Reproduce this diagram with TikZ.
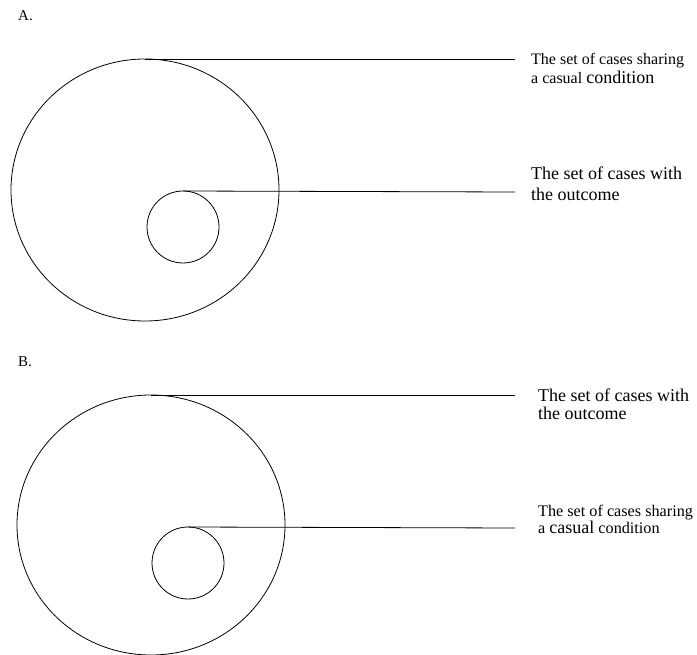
\documentclass[tikz,border=0pt]{standalone}
\usepackage{fontspec}
\setmainfont{Liberation Serif}
\begin{document}
\begin{tikzpicture}[x=1pt,y=-1pt,
  set/.style={draw=black, line width=0.8pt},
  lead/.style={draw=black, line width=0.8pt},
  lblbig/.style={anchor=north west, align=left, inner sep=0pt, font=\fontsize{18}{20}\selectfont},
  lblsmall/.style={anchor=north west, align=left, inner sep=0pt, font=\fontsize{16.2}{17.5}\selectfont},
  tag/.style={anchor=north west, inner sep=0pt, font=\fontsize{15}{17}\selectfont}]
\useasboundingbox (0,0) rectangle (697,655);
% Panel A
\node[tag] (tA) at (18,10) {A.};
\draw[set] (145,190) ellipse [x radius=134, y radius=131];
\coordinate (Atop) at (145,59);
\draw[set] (183,227) circle [radius=36];
\coordinate (atop) at (183,191);
\node[lblsmall, font=\fontsize{16}{19}\selectfont] (A1) at (531,53) {The set of cases sharing\\a casual {\fontsize{18}{19}\selectfont condition}};
\node[lblbig, font=\fontsize{18}{21}\selectfont] (A2) at (531,166.5) {The set of cases with\\the outcome};
\coordinate (A1e) at (515,59);
\coordinate (A2e) at (515,192);
\draw[lead] (Atop) -- (A1e);
\draw[lead] (atop) -- (A2e);
% Panel B
\node[tag] (tB) at (18,356) {B.};
\draw[set] (151,525) ellipse [x radius=134, y radius=130];
\coordinate (Btop) at (151,395);
\draw[set] (188,563) circle [radius=36];
\coordinate (btop) at (188,527);
\node[lblbig, font=\fontsize{18}{18}\selectfont] (B1) at (538,388.5) {The set of cases with\\the outcome};
\node[lblsmall] (B2) at (538,504.5) {The set of cases sharing\\a {\fontsize{18}{17.5}\selectfont casual} condition};
\coordinate (B1e) at (515,395);
\coordinate (B2e) at (515,528);
\draw[lead] (Btop) -- (B1e);
\draw[lead] (btop) -- (B2e);
\end{tikzpicture}
\end{document}
